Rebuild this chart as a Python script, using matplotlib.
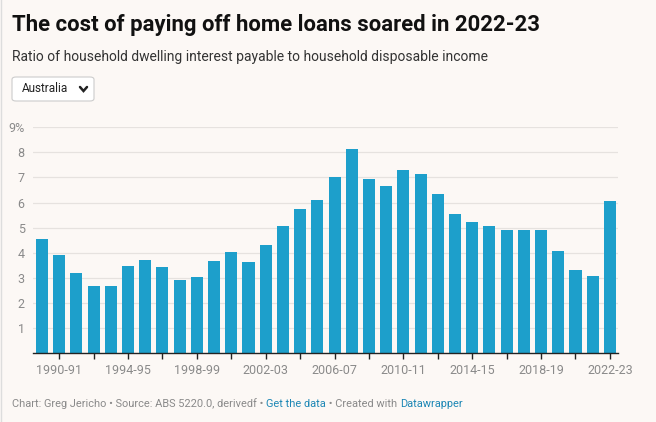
"""household dwelling interest payable vs disposable income, column chart"""

import matplotlib.pyplot as plt
from matplotlib.patches import FancyBboxPatch

plt.rcParams['font.family'] = ['Roboto', 'DejaVu Sans']

# financial years 1989-90 .. 2022-23
years = ["%d-%02d" % (y, (y + 1) % 100) for y in range(1989, 2023)]
ratio = [4.55, 3.91, 3.19, 2.67, 2.67, 3.47, 3.71, 3.43, 2.91, 3.03,
         3.67, 4.03, 3.63, 4.31, 5.07, 5.74, 6.10, 7.02, 8.14, 6.94,
         6.66, 7.30, 7.14, 6.34, 5.55, 5.23, 5.07, 4.91, 4.91, 4.91,
         4.07, 3.31, 3.07, 6.06]
y_ticks = [1, 2, 3, 4, 5, 6, 7, 8, 9]

BG = '#fcf8f5'
BAR = '#1d9fcb'
W, H = 656, 422

fig = plt.figure(figsize=(W / 100, H / 100), dpi=100, facecolor=BG)

# axes box in pixel coords: left 33, right 618, baseline 353, 9% at 127
ax = fig.add_axes([33 / W, (H - 353) / H, (618 - 33) / W, (353 - 127.3) / H])
ax.set_facecolor(BG)

x = list(range(len(years)))
ax.bar(x, ratio, width=0.7, color=BAR, zorder=2)
ax.set_xlim(-0.52, len(years) - 0.53)
ax.set_ylim(0, 9)

for v in y_ticks:
    ax.axhline(v, color='#e6e2df', lw=0.9, zorder=1)
ax.set_yticks(y_ticks)
ax.set_yticklabels([str(v) if v < 9 else "9%" for v in y_ticks])
ax.tick_params(axis='y', length=0, pad=6, labelsize=9, labelcolor='#8a8a8a')

ax.set_xticks(x[1::2])
ax.set_xticklabels([years[i] if (i - 1) % 4 == 0 else "" for i in x[1::2]])
ax.tick_params(axis='x', length=4, width=1, color='#222222', pad=4,
               labelsize=9, labelcolor='#8a8a8a')

for s in ['top', 'right', 'left']:
    ax.spines[s].set_visible(False)
ax.spines['bottom'].set_color('#222222')
ax.spines['bottom'].set_linewidth(1)
ax.spines['bottom'].set_zorder(3)

# header
fig.text(12 / W, 1 - 25 / H, "The cost of paying off home loans soared in 2022-23",
         fontsize=15.9, fontweight='bold', color='#111111', va='center')
fig.text(12 / W, 1 - 57 / H,
         "Ratio of household dwelling interest payable to household disposable income",
         fontsize=10, color='#333333', va='center')

# dropdown
box = FancyBboxPatch((12 / W, 1 - 101 / H), 82 / W, 24 / H,
                     boxstyle="round,pad=0,rounding_size=0.006",
                     transform=fig.transFigure, facecolor='white',
                     edgecolor='#cccccc', lw=0.8)
fig.patches.append(box)
fig.text(22 / W, 1 - 89 / H, "Australia", fontsize=8.5, color='#222222', va='center')
fig.add_artist(plt.Line2D([80 / W, 83.5 / W, 87 / W],
                          [1 - 87 / H, 1 - 91 / H, 1 - 87 / H],
                          color='#222222', lw=1.8, solid_capstyle='round',
                          solid_joinstyle='miter', transform=fig.transFigure))

# footer
parts = [("Chart: Greg Jericho \u2022 Source: ABS 5220.0, derivedf \u2022 ", '#8a8a8a'),
         ("Get the data", '#1d87b5'),
         (" \u2022 Created with ", '#8a8a8a'),
         ("Datawrapper", '#1d87b5')]
fig.canvas.draw()
renderer = fig.canvas.get_renderer()
xp = 12
for txt, col in parts:
    t = fig.text(xp / W, 1 - 404 / H, txt, fontsize=7.9, color=col, va='center')
    xp += t.get_window_extent(renderer).width

# thin border on the left edge
fig.add_artist(plt.Line2D([0.5 / W, 0.5 / W], [0, 1], color='#dddddd', lw=1,
                          transform=fig.transFigure))

fig.savefig("out.png", dpi=100, facecolor=BG)
